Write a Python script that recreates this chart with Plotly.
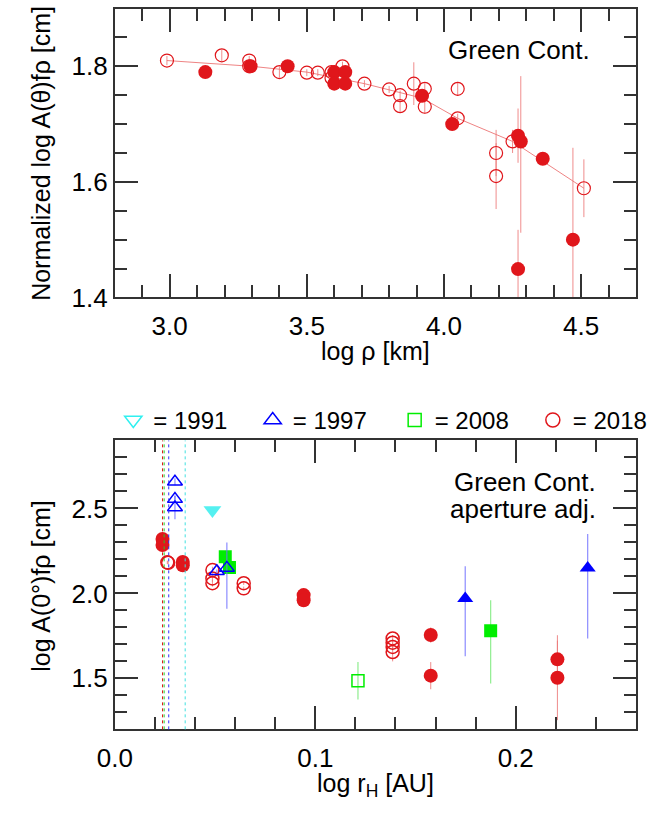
import plotly.graph_objects as go

# ---------------- Top panel data (log rho vs normalized log A(theta)f rho) ----------------
top_open_x = [2.99, 3.19, 3.29, 3.29, 3.40, 3.50, 3.54, 3.59, 3.59, 3.63, 3.71, 3.80, 3.84, 3.84,
              3.89, 3.93, 3.93, 4.05, 4.05, 4.19, 4.19, 4.25, 4.51]
top_open_y = [1.810, 1.819, 1.810, 1.800, 1.790, 1.789, 1.789, 1.790, 1.780, 1.800, 1.770, 1.760,
              1.750, 1.731, 1.770, 1.761, 1.730, 1.761, 1.710, 1.650, 1.610, 1.670, 1.589]
top_open_err = [0.008, 0.010, 0.008, 0.008, 0.010, 0.006, 0.006, 0.006, 0.006, 0.008, 0.006, 0.006,
                0.008, 0.010, 0.037, 0.010, 0.012, 0.012, 0.008, 0.040, 0.057, 0.020, 0.050]

top_fill_x = [3.13, 3.295, 3.43, 3.60, 3.64, 3.60, 3.64, 3.92, 4.03, 4.27, 4.28, 4.36, 4.27, 4.47]
top_fill_y = [1.790, 1.800, 1.800, 1.790, 1.790, 1.770, 1.770, 1.749, 1.700, 1.680, 1.670, 1.640,
              1.449, 1.500]
top_fill_err_plus = [0.005, 0.005, 0.005, 0.005, 0.005, 0.005, 0.005, 0.008, 0.008, 0.047, 0.113,
                     0.006, 0.068, 0.159]
top_fill_err_minus = [0.005, 0.005, 0.005, 0.005, 0.005, 0.005, 0.005, 0.008, 0.008, 0.047, 0.158,
                      0.006, 0.068, 0.159]

fit_x = [2.99, 3.30, 3.50, 3.71, 3.92, 4.05, 4.25, 4.51]
fit_y = [1.810, 1.800, 1.790, 1.770, 1.745, 1.710, 1.670, 1.589]

# ---------------- Bottom panel data (log r_H vs log A(0)f rho) ----------------
y1991_x = [0.0487]
y1991_y = [2.49]

y1997_open_x = [0.030, 0.030, 0.030, 0.0509, 0.0559]
y1997_open_y = [2.657, 2.555, 2.506, 2.130, 2.150]
y1997_open_ep = [0.02, 0.02, 0.07, 0.01, 0.15]
y1997_open_em = [0.02, 0.02, 0.07, 0.01, 0.24]

y1997_fill_x = [0.1748, 0.2359]
y1997_fill_y = [1.97, 2.15]
y1997_fill_ep = [0.19, 0.20]
y1997_fill_em = [0.34, 0.415]

y2008_open_x = [0.1213]
y2008_open_y = [1.486]
y2008_open_err = [0.11]

y2008_fill_x = [0.0551, 0.0572, 0.1875]
y2008_fill_y = [2.216, 2.153, 1.78]
y2008_fill_ep = [0.01, 0.01, 0.18]
y2008_fill_em = [0.01, 0.01, 0.31]

y2018_fill_x = [0.0238, 0.0238, 0.0339, 0.0339, 0.0942, 0.0942, 0.1576, 0.1576, 0.2208, 0.2208]
y2018_fill_y = [2.320, 2.285, 2.185, 2.165, 1.990, 1.960, 1.755, 1.516, 1.612, 1.504]
y2018_fill_err = [0.01, 0.01, 0.01, 0.01, 0.01, 0.01, 0.045, 0.08, 0.11, 0.25]

y2018_open_x = [0.0262, 0.0266, 0.0487, 0.0487, 0.0487, 0.0643, 0.0643, 0.1386, 0.1386, 0.1386, 0.1386]
y2018_open_y = [2.183, 2.180, 2.137, 2.088, 2.060, 2.060, 2.030, 1.735, 1.710, 1.685, 1.655]
y2018_open_err = [0.01, 0.01, 0.02, 0.02, 0.02, 0.01, 0.01, 0.02, 0.02, 0.02, 0.055]

dotted_x = [0.0238, 0.0246, 0.0269, 0.0351]
dotted_colors = ["#e01818", "#22cc22", "#3030ff", "#40e0e0"]

legend_names = ["= 1991", "= 1997", "= 2008", "= 2018"]

# ---------------- styles ----------------
RED = "#e0161b"
RED_ERR = "rgba(236,120,120,0.85)"
BLUE = "#0000ff"
BLUE_ERR = "rgba(110,110,255,0.8)"
GREEN = "#00ee00"
GREEN_ERR = "rgba(130,235,130,0.9)"
CYAN = "#55f0f0"
FONT = "Liberation Sans, Arial, Helvetica, sans-serif"

W, H = 653, 817
x_left = 102.3 / W
top_dom = [1 - 303 / H, 1 - 8.7 / H]
bot_dom = [1 - 743 / H, 1 - 448.7 / H]

fig = go.Figure()

# top panel
fig.add_trace(go.Scatter(x=fit_x, y=fit_y, mode="lines", line=dict(color="rgba(232,90,90,0.75)", width=1),
                         showlegend=False, xaxis="x", yaxis="y", hoverinfo="skip"))
fig.add_trace(go.Scatter(x=top_open_x, y=top_open_y, mode="markers",
                         marker=dict(symbol="circle-open", size=13, color=RED, line=dict(width=1.2, color=RED)),
                         error_y=dict(type="data", array=top_open_err, color=RED_ERR, thickness=1, width=0),
                         showlegend=False, xaxis="x", yaxis="y"))
fig.add_trace(go.Scatter(x=top_fill_x, y=top_fill_y, mode="markers",
                         marker=dict(symbol="circle", size=14, color=RED),
                         error_y=dict(type="data", array=top_fill_err_plus, arrayminus=top_fill_err_minus,
                                      color=RED_ERR, thickness=1, width=0),
                         showlegend=False, xaxis="x", yaxis="y"))

# bottom panel: dotted vertical lines
for xv, c in zip(dotted_x, dotted_colors):
    fig.add_shape(type="line", xref="x2", yref="y2 domain", x0=xv, x1=xv, y0=0, y1=1,
                  line=dict(color=c, width=1, dash="dot"))

fig.add_trace(go.Scatter(x=y2018_fill_x, y=y2018_fill_y, mode="markers",
                         marker=dict(symbol="circle", size=14, color=RED),
                         error_y=dict(type="data", array=y2018_fill_err, color=RED_ERR, thickness=1, width=0),
                         showlegend=False, xaxis="x2", yaxis="y2"))
fig.add_trace(go.Scatter(x=y2018_open_x, y=y2018_open_y, mode="markers",
                         marker=dict(symbol="circle-open", size=13, color=RED, line=dict(width=1.5, color=RED)),
                         error_y=dict(type="data", array=y2018_open_err, color=RED_ERR, thickness=1, width=0),
                         showlegend=False, xaxis="x2", yaxis="y2"))
fig.add_trace(go.Scatter(x=y2008_open_x, y=y2008_open_y, mode="markers",
                         marker=dict(symbol="square-open", size=12, color=GREEN, line=dict(width=1.5, color=GREEN)),
                         error_y=dict(type="data", array=y2008_open_err, color=GREEN_ERR, thickness=1.2, width=0),
                         showlegend=False, xaxis="x2", yaxis="y2"))
fig.add_trace(go.Scatter(x=y2008_fill_x, y=y2008_fill_y, mode="markers",
                         marker=dict(symbol="square", size=13, color=GREEN),
                         error_y=dict(type="data", array=y2008_fill_ep, arrayminus=y2008_fill_em,
                                      color=GREEN_ERR, thickness=1.2, width=0),
                         showlegend=False, xaxis="x2", yaxis="y2"))
fig.add_trace(go.Scatter(x=y1997_open_x, y=y1997_open_y, mode="markers",
                         marker=dict(symbol="triangle-up-open", size=13, color=BLUE, line=dict(width=1.5, color=BLUE)),
                         error_y=dict(type="data", array=y1997_open_ep, arrayminus=y1997_open_em,
                                      color=BLUE_ERR, thickness=1.2, width=0),
                         showlegend=False, xaxis="x2", yaxis="y2"))
fig.add_trace(go.Scatter(x=y1997_fill_x, y=y1997_fill_y, mode="markers",
                         marker=dict(symbol="triangle-up", size=14, color=BLUE),
                         error_y=dict(type="data", array=y1997_fill_ep, arrayminus=y1997_fill_em,
                                      color=BLUE_ERR, thickness=1.2, width=0),
                         showlegend=False, xaxis="x2", yaxis="y2"))
fig.add_trace(go.Scatter(x=y1991_x, y=y1991_y, mode="markers",
                         marker=dict(symbol="triangle-down", size=15.5, color=CYAN),
                         showlegend=False, xaxis="x2", yaxis="y2"))

# legend entries (open symbols), one small legend per year placed in a row above the lower panel
leg_syms = ["triangle-down-open", "triangle-up-open", "square-open", "circle-open"]
leg_cols = ["#30f0f0", BLUE, GREEN, RED]
leg_sizes = [15, 15, 13, 14]
leg_centers_px = [120.7, 268.0, 418.0, 564.0]
leg_ids = ["legend", "legend2", "legend3", "legend4"]
for name, s, c, sz, lid in zip(legend_names, leg_syms, leg_cols, leg_sizes, leg_ids):
    fig.add_trace(go.Scatter(x=[None], y=[None], mode="markers", name=name, legend=lid,
                             marker=dict(symbol=s, size=sz, color=c, line=dict(width=1.5, color=c)),
                             xaxis="x2", yaxis="y2", showlegend=True))

axis_common = dict(showline=True, linewidth=2, linecolor="#333", mirror="ticks", ticks="inside",
                   tickwidth=2, tickcolor="#333", ticklen=23, showgrid=False, zeroline=False,
                   tickfont=dict(size=26, color="black", family=FONT), tickformat=".1f")

def minor(dt):
    return dict(dtick=dt, tick0=0, ticklen=12, tickwidth=2, tickcolor="#333", ticks="inside")

legend_layout = {}
for lid, cx in zip(leg_ids, leg_centers_px):
    legend_layout[lid] = dict(x=(cx - 20) / W, xanchor="left", y=1 - 428.3 / H, yanchor="middle",
                              font=dict(size=24, color="black", family=FONT),
                              bgcolor="rgba(0,0,0,0)", borderwidth=0, itemsizing="trace")

title_font = dict(size=25, color="black", family=FONT)

fig.update_layout(
    width=W, height=H, margin=dict(l=0, r=0, t=0, b=0),
    paper_bgcolor="white", plot_bgcolor="white",
    font=dict(family=FONT, color="black"),
    xaxis=dict(domain=[x_left, 1], range=[2.8, 4.7], anchor="y", tick0=3.0, dtick=0.5,
               minor=minor(0.1), ticklabelstandoff=4, **axis_common),
    yaxis=dict(domain=top_dom, range=[1.4, 1.9], anchor="x", tick0=1.4, dtick=0.2,
               minor=minor(0.05), **axis_common),
    xaxis2=dict(domain=[x_left, 1], range=[0, 0.26], anchor="y2", tick0=0, dtick=0.1,
                minor=minor(0.02), ticklabelstandoff=4, **axis_common),
    yaxis2=dict(domain=bot_dom, range=[1.2, 2.9], anchor="x2", tick0=0, dtick=0.5,
                minor=minor(0.1), **axis_common),
    **legend_layout,
    annotations=[
        # axis titles
        dict(text="log ρ [km]", x=(x_left + 1) / 2, y=1 - 358 / H, xref="paper", yref="paper",
             xanchor="center", yanchor="middle", showarrow=False, font=title_font),
        dict(text="log r<sub>H</sub> [AU]", x=(x_left + 1) / 2, y=1 - 800 / H, xref="paper", yref="paper",
             xanchor="center", yanchor="middle", showarrow=False, font=title_font),
        dict(text="Normalized log A(θ)fρ [cm]", x=24 / W, y=1 - 156 / H, xref="paper", yref="paper",
             xanchor="center", yanchor="middle", textangle=-90, showarrow=False, font=title_font),
        dict(text="log A(0°)fρ [cm]", x=24 / W, y=1 - 597 / H, xref="paper", yref="paper",
             xanchor="center", yanchor="middle", textangle=-90, showarrow=False, font=title_font),
        # panel labels
        dict(text="Green Cont.", x=4.538, y=1.828, xref="x", yref="y", xanchor="right", yanchor="middle",
             showarrow=False, font=dict(size=26, color="black", family=FONT)),
        dict(text="Green Cont.", x=0.2412, y=2.653, xref="x2", yref="y2", xanchor="right", yanchor="middle",
             showarrow=False, font=dict(size=26, color="black", family=FONT)),
        dict(text="aperture adj.", x=0.2412, y=2.494, xref="x2", yref="y2", xanchor="right", yanchor="middle",
             showarrow=False, font=dict(size=26, color="black", family=FONT)),
    ],
)

fig.write_html("out.html")
